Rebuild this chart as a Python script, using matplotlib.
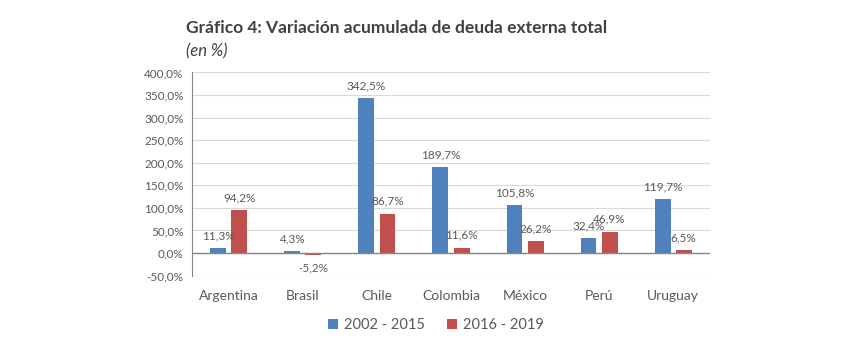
import numpy as np
import matplotlib.pyplot as plt

countries = ["Argentina", "Brasil", "Chile", "Colombia", "México", "Perú", "Uruguay"]
serie_2002_2015 = [11.3, 4.3, 342.5, 189.7, 105.8, 32.4, 119.7]
serie_2016_2019 = [94.2, -5.2, 86.7, 11.6, 26.2, 46.9, 6.5]
series_labels = ["2002 - 2015", "2016 - 2019"]
yticks = [-50, 0, 50, 100, 150, 200, 250, 300, 350, 400]

plt.rcParams['font.family'] = ['Lato', 'DejaVu Sans']
text_color = '#595959'

fig = plt.figure(figsize=(8.62, 3.6), dpi=100)
ax = fig.add_axes([0.2227, 0.2333, 0.601, 0.5667])

x = np.arange(len(countries))
w = 0.216
off = 0.142
b1 = ax.bar(x - off, serie_2002_2015, w, color='#4F81BD', label=series_labels[0], zorder=3)
b2 = ax.bar(x + off, serie_2016_2019, w, color='#C0504D', label=series_labels[1], zorder=3)

def fmt(v):
    return f"{v:.1f}%".replace('.', ',')

for bars, vals in [(b1, serie_2002_2015), (b2, serie_2016_2019)]:
    for rect, v in zip(bars, vals):
        cx = rect.get_x() + rect.get_width() / 2
        if v >= 0:
            ax.annotate(fmt(v), (cx, v), xytext=(0, 5), textcoords='offset points',
                        ha='center', va='bottom', fontsize=8.5, color=text_color)
        else:
            ax.annotate(fmt(v), (cx, v), xytext=(0, -5), textcoords='offset points',
                        ha='center', va='top', fontsize=8.5, color=text_color)

ax.set_xlim(-0.5, len(countries) - 0.5)
ax.set_ylim(-51, 401)
ax.set_yticks(yticks)
ax.set_yticklabels([fmt(t) for t in yticks], fontsize=8.5, color=text_color)
ax.set_xticks(x)
ax.set_xticklabels(countries, fontsize=10, color=text_color)
ax.tick_params(axis='both', length=0)
ax.tick_params(axis='x', pad=10)
ax.tick_params(axis='y', pad=6)

ax.grid(axis='y', color='#D9D9D9', linewidth=0.8, zorder=0)
ax.axhline(0, color='#868686', linewidth=1, zorder=4)
for s in ['top', 'right', 'bottom']:
    ax.spines[s].set_visible(False)
ax.spines['left'].set_color('#868686')
ax.spines['left'].set_linewidth(0.8)

fig.text(186 / 862, 1 - 28 / 360, "Gráfico 4: Variación acumulada de deuda externa total",
         fontsize=12.5, fontweight='bold', color='#404040', va='center', ha='left')
fig.text(186 / 862, 1 - 51 / 360, "(en %)", fontsize=12, style='italic',
         color='#404040', va='center', ha='left')

fig.legend(handles=[b1, b2], loc='center', bbox_to_anchor=(436 / 862, 1 - 325 / 360),
           ncol=2, frameon=False, fontsize=10.5, handlelength=0.7, handleheight=0.7,
           handletextpad=0.4, columnspacing=1.5, labelcolor=text_color)

fig.savefig('out.png', dpi=100)
